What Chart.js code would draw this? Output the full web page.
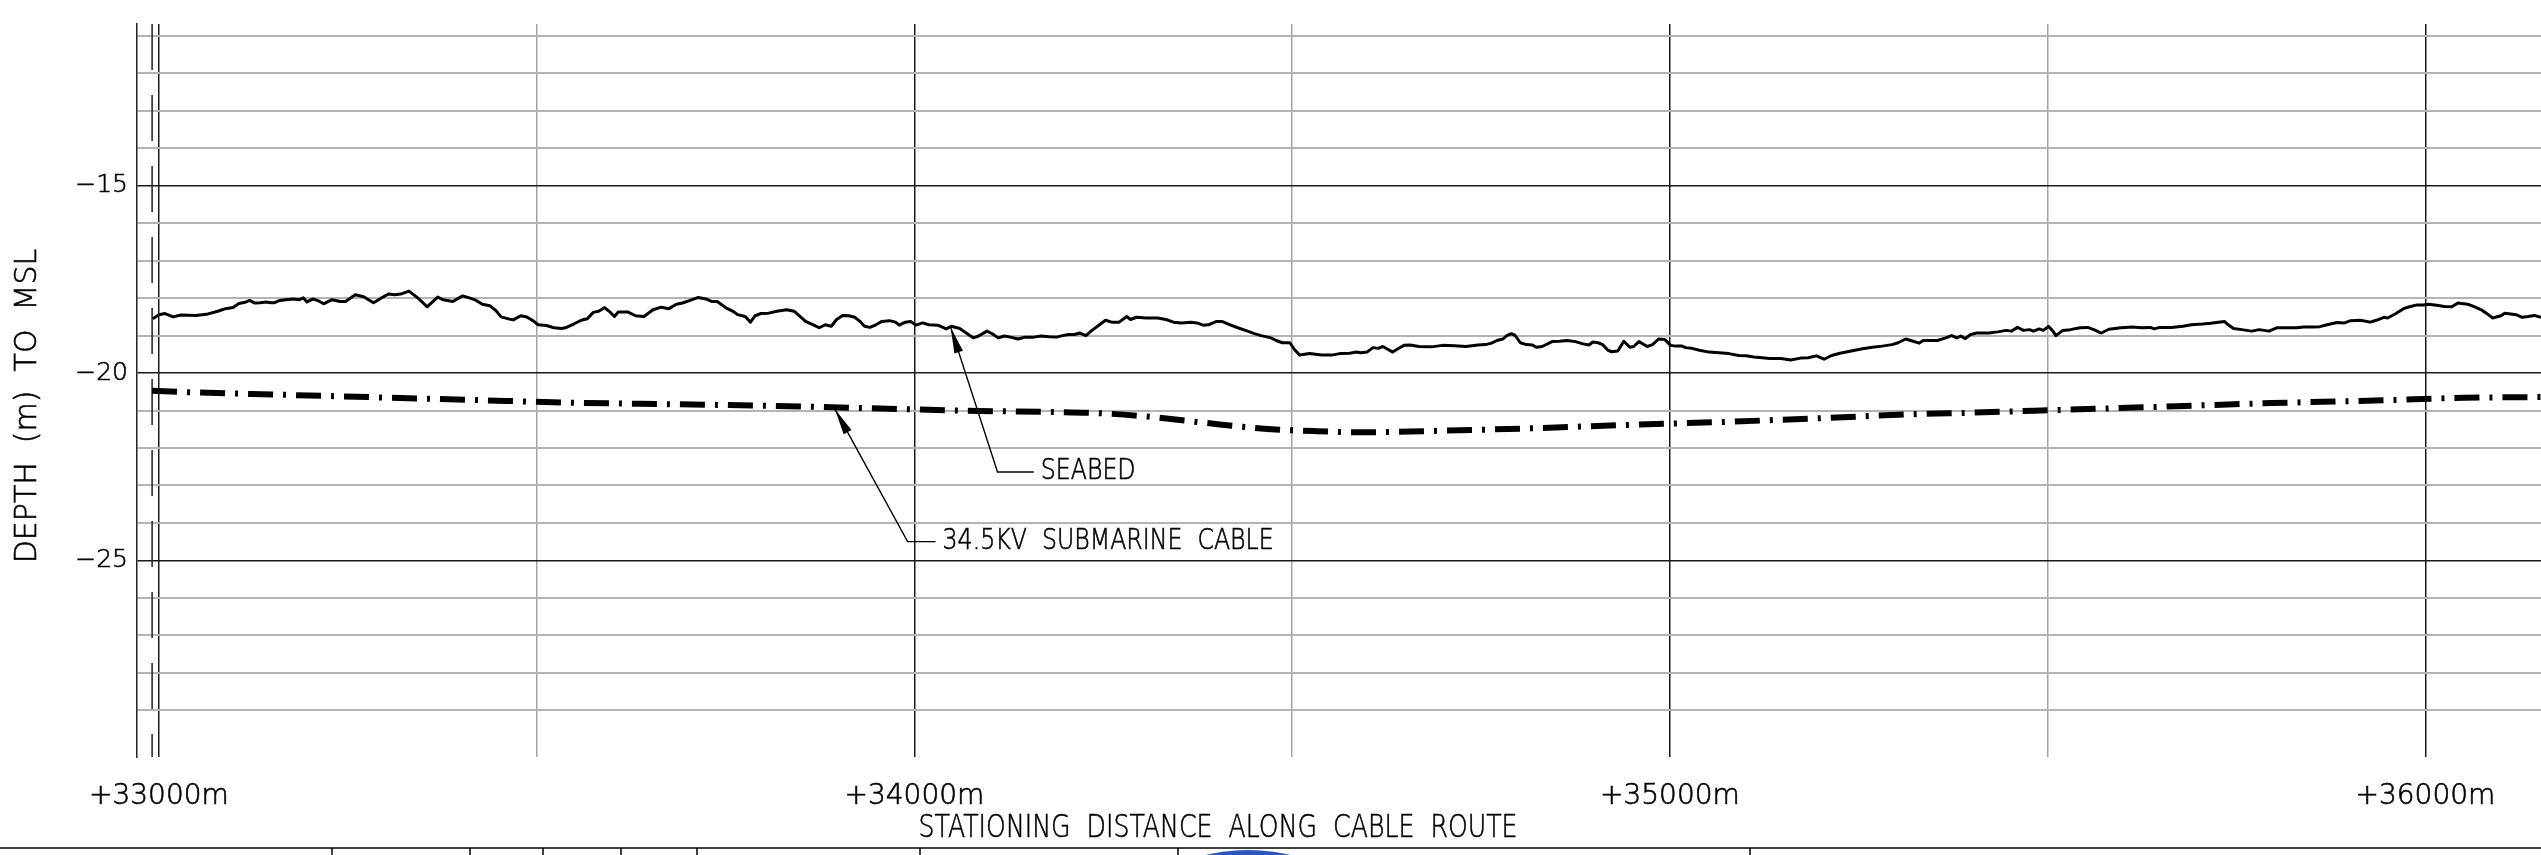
<!DOCTYPE html>
<html>
<head>
<meta charset="utf-8">
<script src="https://cdn.jsdelivr.net/npm/chart.js@4.4.1/dist/chart.umd.min.js"></script>
<style>
  html, body { margin: 0; padding: 0; background: #fff; }
  #wrap { width: 2541px; height: 855px; }
</style>
</head>
<body>
<div id="wrap"><canvas id="perfil" width="2541" height="855"></canvas></div>
<script>
// ================= DATA =================

// seabed profile, station (m) / depth (m to MSL)
const seabedStation = [
  32992, 33000, 33008, 33019, 33029, 33049, 33065, 33078, 33088, 33098, 33106, 33114, 33120, 33127,
  33134, 33142, 33148, 33153, 33160, 33168, 33178, 33186, 33191, 33196, 33204, 33211, 33218, 33229,
  33240, 33247, 33260, 33271, 33284, 33294, 33304, 33312, 33320, 33331, 33343, 33355, 33369, 33376,
  33389, 33402, 33412, 33420, 33428, 33438, 33446, 33453, 33464, 33469, 33479, 33487, 33495, 33502,
  33513, 33523, 33533, 33538, 33549, 33559, 33567, 33575, 33582, 33590, 33596, 33603, 33608, 33621,
  33631, 33642, 33654, 33665, 33675, 33685, 33693, 33703, 33714, 33724, 33732, 33739, 33750, 33760,
  33766, 33776, 33783, 33789, 33797, 33807, 33818, 33831, 33841, 33849, 33856, 33867, 33874, 33882,
  33890, 33897, 33905, 33913, 33921, 33928, 33934, 33941, 33949, 33957, 33967, 33975, 33980, 33988,
  33995, 34002, 34011, 34019, 34031, 34042, 34049, 34060, 34070, 34078, 34085, 34096, 34103, 34111,
  34119, 34127, 34137, 34147, 34158, 34168, 34178, 34188, 34196, 34204, 34212, 34219, 34227, 34235,
  34245, 34253, 34261, 34271, 34281, 34286, 34294, 34307, 34322, 34333, 34343, 34353, 34366, 34374,
  34382, 34389, 34400, 34407, 34418, 34428, 34441, 34449, 34459, 34472, 34479, 34487, 34497, 34503,
  34510, 34523, 34539, 34552, 34563, 34576, 34584, 34591, 34599, 34607, 34614, 34620, 34627, 34633,
  34640, 34648, 34656, 34668, 34684, 34699, 34715, 34730, 34746, 34756, 34764, 34771, 34779, 34784,
  34790, 34795, 34802, 34810, 34818, 34823, 34831, 34844, 34854, 34864, 34875, 34885, 34893, 34898,
  34905, 34911, 34918, 34923, 34931, 34939, 34947, 34952, 34959, 34970, 34977, 34985, 34993, 35001,
  35008, 35016, 35021, 35029, 35039, 35052, 35065, 35078, 35091, 35101, 35111, 35122, 35132, 35147,
  35160, 35173, 35183, 35194, 35204, 35214, 35225, 35235, 35245, 35255, 35268, 35281, 35294, 35302,
  35312, 35322, 35330, 35335, 35346, 35354, 35365, 35373, 35380, 35385, 35391, 35398, 35406, 35422,
  35434, 35445, 35452, 35460, 35468, 35476, 35481, 35489, 35494, 35499, 35501, 35507, 35511, 35520,
  35530, 35543, 35553, 35561, 35571, 35581, 35597, 35612, 35625, 35636, 35641, 35648, 35664, 35679,
  35690, 35705, 35716, 35726, 35734, 35739, 35746, 35757, 35770, 35780, 35793, 35803, 35814, 35829,
  35839, 35850, 35860, 35870, 35883, 35893, 35901, 35914, 35927, 35935, 35945, 35950, 35961, 35971,
  35979, 35989, 35997, 36004, 36015, 36025, 36035, 36043, 36056, 36066, 36074, 36082, 36089, 36100,
  36105, 36113, 36120, 36128, 36136, 36144, 36153
];
const seabedDepth = [
  -18.55, -18.44, -18.41, -18.50, -18.45, -18.46, -18.42, -18.35, -18.28, -18.25, -18.14, -18.11, -18.06, -18.13,
  -18.12, -18.10, -18.12, -18.12, -18.06, -18.04, -18.02, -18.04, -17.99, -18.10, -18.02, -18.07, -18.15, -18.04,
  -18.09, -18.09, -17.91, -17.96, -18.12, -18.00, -17.89, -17.91, -17.89, -17.81, -18.00, -18.23, -17.97, -18.04,
  -18.09, -17.94, -18.00, -18.06, -18.16, -18.20, -18.33, -18.50, -18.56, -18.58, -18.47, -18.50, -18.60, -18.71,
  -18.73, -18.79, -18.81, -18.79, -18.69, -18.59, -18.55, -18.38, -18.35, -18.25, -18.35, -18.49, -18.37, -18.37,
  -18.47, -18.49, -18.31, -18.24, -18.28, -18.16, -18.13, -18.06, -17.98, -18.02, -18.09, -18.09, -18.25, -18.35,
  -18.44, -18.49, -18.64, -18.47, -18.41, -18.40, -18.35, -18.31, -18.35, -18.49, -18.62, -18.72, -18.79, -18.71,
  -18.75, -18.57, -18.46, -18.47, -18.51, -18.62, -18.75, -18.78, -18.71, -18.62, -18.60, -18.64, -18.72, -18.64,
  -18.62, -18.72, -18.66, -18.71, -18.72, -18.82, -18.75, -18.81, -18.95, -19.06, -19.01, -18.88, -18.95, -19.06,
  -19.01, -19.04, -19.09, -19.04, -19.04, -19.01, -19.03, -19.04, -19.00, -18.97, -18.97, -18.93, -19.00, -18.86,
  -18.71, -18.59, -18.64, -18.64, -18.49, -18.57, -18.51, -18.53, -18.53, -18.57, -18.64, -18.66, -18.64, -18.66,
  -18.72, -18.71, -18.62, -18.62, -18.71, -18.79, -18.88, -18.94, -19.00, -19.06, -19.13, -19.19, -19.19, -19.37,
  -19.52, -19.48, -19.52, -19.52, -19.48, -19.47, -19.44, -19.46, -19.44, -19.32, -19.34, -19.29, -19.37, -19.44,
  -19.35, -19.26, -19.25, -19.29, -19.30, -19.26, -19.27, -19.29, -19.25, -19.24, -19.20, -19.13, -19.09, -19.00,
  -18.95, -18.99, -19.19, -19.24, -19.25, -19.31, -19.29, -19.16, -19.15, -19.13, -19.16, -19.22, -19.25, -19.17,
  -19.19, -19.24, -19.39, -19.43, -19.41, -19.15, -19.31, -19.29, -19.16, -19.29, -19.24, -19.09, -19.10, -19.26,
  -19.28, -19.28, -19.32, -19.34, -19.39, -19.44, -19.46, -19.48, -19.53, -19.54, -19.57, -19.59, -19.61, -19.61,
  -19.65, -19.60, -19.59, -19.54, -19.63, -19.53, -19.47, -19.43, -19.39, -19.35, -19.31, -19.28, -19.24, -19.19,
  -19.09, -19.15, -19.20, -19.13, -19.13, -19.13, -19.06, -19.00, -19.06, -19.01, -19.08, -18.97, -18.93, -18.93,
  -18.90, -18.86, -18.88, -18.78, -18.86, -18.84, -18.88, -18.82, -18.86, -18.79, -18.75, -18.88, -19.00, -18.86,
  -18.84, -18.79, -18.78, -18.84, -18.93, -18.83, -18.79, -18.77, -18.79, -18.78, -18.82, -18.78, -18.78, -18.75,
  -18.71, -18.69, -18.67, -18.64, -18.62, -18.71, -18.81, -18.84, -18.88, -18.84, -18.88, -18.79, -18.79, -18.79,
  -18.77, -18.77, -18.76, -18.71, -18.65, -18.66, -18.60, -18.59, -18.64, -18.59, -18.51, -18.53, -18.41, -18.28,
  -18.23, -18.18, -18.18, -18.16, -18.19, -18.22, -18.23, -18.13, -18.16, -18.24, -18.31, -18.42, -18.53, -18.47,
  -18.40, -18.42, -18.44, -18.51, -18.49, -18.46, -18.51
];

// 34.5KV submarine cable
const cableStation = [32991, 33039, 33166, 33293, 33420, 33547, 33674, 33801, 33928, 34055, 34182, 34244, 34307,
  34404, 34467, 34531, 34593, 34697, 34823, 34951, 35078, 35204, 35332, 35394, 35522, 35648, 35797, 35923, 36051, 36153];
const cableDepth = [-20.47, -20.51, -20.58, -20.65, -20.72, -20.79, -20.83, -20.87, -20.93, -21.00, -21.04, -21.07, -21.16,
  -21.37, -21.49, -21.55, -21.58, -21.54, -21.47, -21.38, -21.30, -21.20, -21.09, -21.06, -20.98, -20.90, -20.80, -20.74, -20.66, -20.64];

const stationTicks = [33000, 33500, 34000, 34500, 35000, 35500, 36000];
const stationLabels = ["+33000m", "", "+34000m", "", "+35000m", "", "+36000m"];
const depthTicks = [-29, -28, -27, -26, -25, -24, -23, -22, -21, -20, -19, -18, -17, -16, -15, -14, -13, -12, -11];
const depthLabelled = [-15, -20, -25];

const stationRange = [32971, 36153];
const depthRange = [-30.25, -10.68];
const routeStartMark = 32991;

// ================= CHART =================

const TINTA = "#000";
const fonteCad = "'DejaVu Sans', sans-serif";

const callouts = [
  { text: "SEABED", tip: [34048, -18.78], elbow: [34110, -22.64], end: 34158 },
  { text: "34.5KV  SUBMARINE  CABLE", tip: [33895, -20.97], elbow: [33991, -24.5], end: 34028 },
];

// texto fino, opcionalmente comprimido na horizontal (estilo CAD)
function textoCad(ctx, txt, x, y, size, escala, align, rot) {
  ctx.save();
  ctx.font = "200 " + size + "px " + fonteCad;
  ctx.textAlign = align;
  ctx.textBaseline = "middle";
  ctx.lineWidth = 0.6;
  ctx.translate(x, y);
  if (rot) ctx.rotate(rot);
  ctx.scale(escala, 1);
  ctx.fillText(txt, 0, 0);
  ctx.strokeText(txt, 0, 0);
  ctx.restore();
}

const desenho = {
  id: "desenho",
  beforeDatasetsDraw(chart) {
    const { ctx, chartArea, scales } = chart;
    const px = scales.x.getPixelForValue(routeStartMark);
    ctx.save();
    ctx.strokeStyle = "#222";
    ctx.lineWidth = 1.5;
    ctx.setLineDash([46, 25]);
    ctx.beginPath();
    ctx.moveTo(px, chartArea.top);
    ctx.lineTo(px, chartArea.bottom);
    ctx.stroke();
    ctx.restore();
  },
  afterDraw(chart) {
    const { ctx, scales } = chart;
    const { x, y } = scales;
    ctx.save();
    ctx.fillStyle = TINTA;
    ctx.strokeStyle = TINTA;

    // axis titles
    textoCad(ctx, "DEPTH  (m)  TO  MSL", 28, 406, 30, 1, "center", -Math.PI / 2);
    textoCad(ctx, "STATIONING  DISTANCE  ALONG  CABLE  ROUTE", 1218, 829, 31.5, 0.8, "center");

    // callouts
    callouts.forEach((c) => {
      const tx = x.getPixelForValue(c.tip[0]);
      const ty = y.getPixelForValue(c.tip[1]);
      const ex = x.getPixelForValue(c.elbow[0]);
      const ey = y.getPixelForValue(c.elbow[1]);
      const hx = x.getPixelForValue(c.end);
      ctx.lineWidth = 1.4;
      ctx.beginPath();
      ctx.moveTo(tx, ty);
      ctx.lineTo(ex, ey);
      ctx.lineTo(hx, ey);
      ctx.stroke();
      const len = Math.hypot(ex - tx, ey - ty);
      const ux = (ex - tx) / len, uy = (ey - ty) / len;
      const bx = tx + ux * 26, by = ty + uy * 26;
      ctx.beginPath();
      ctx.moveTo(tx, ty);
      ctx.lineTo(bx - uy * 4.5, by + ux * 4.5);
      ctx.lineTo(bx + uy * 4.5, by - ux * 4.5);
      ctx.closePath();
      ctx.fill();
      textoCad(ctx, c.text, hx + 7, ey, 27.5, 0.86, "left");
    });

    // borda do carimbo no pé da folha
    ctx.lineWidth = 1.5;
    ctx.beginPath();
    ctx.moveTo(0, 848);
    ctx.lineTo(chart.width, 848);
    [332, 470, 543, 621, 697, 920, 1178, 1750].forEach((bx) => {
      ctx.moveTo(bx, 848);
      ctx.lineTo(bx, 855);
    });
    ctx.stroke();

    // logo (só o topo aparece)
    ctx.beginPath();
    ctx.rect(1150, 850, 200, 10);
    ctx.clip();
    ctx.fillStyle = "#2f57b8";
    ctx.beginPath();
    ctx.ellipse(1248, 940, 130, 90, 0, 0, Math.PI * 2);
    ctx.fill();
    ctx.restore();
  },
};

new Chart(document.getElementById("perfil").getContext("2d"), {
  type: "line",
  data: {
    datasets: [
      {
        label: "SEABED",
        data: seabedStation.map((s, i) => ({ x: s, y: seabedDepth[i] })),
        borderColor: "#000",
        borderWidth: 3,
        borderJoinStyle: "round",
        pointRadius: 0,
        tension: 0,
      },
      {
        label: "34.5KV SUBMARINE CABLE",
        data: cableStation.map((s, i) => ({ x: s, y: cableDepth[i] })),
        borderColor: "#000",
        borderWidth: 6,
        borderDash: [25, 10, 3, 10],
        borderCapStyle: "butt",
        cubicInterpolationMode: "monotone",
        pointRadius: 0,
      },
    ],
  },
  options: {
    responsive: false,
    animation: false,
    devicePixelRatio: 1,
    layout: { padding: { top: 19, left: 0, right: 0, bottom: 0 } },
    plugins: { legend: { display: false }, tooltip: { enabled: false } },
    scales: {
      x: {
        type: "linear",
        min: stationRange[0],
        max: stationRange[1],
        afterBuildTicks: (axis) => { axis.ticks = stationTicks.map((v) => ({ value: v })); },
        afterFit: (axis) => { axis.height = 98; },
        border: { display: false },
        grid: {
          drawTicks: false,
          color: (c) => (c.tick && c.tick.value % 1000 === 0 ? "#1a1a1a" : "#a4a4a4"),
          lineWidth: 1.5,
        },
        ticks: {
          autoSkip: false,
          maxRotation: 0,
          padding: 23,
          color: TINTA,
          textStrokeColor: TINTA,
          textStrokeWidth: 0.6,
          font: { family: fonteCad, size: 28, weight: "200" },
          callback: (v, i) => stationLabels[i],
        },
      },
      y: {
        type: "linear",
        min: depthRange[0],
        max: depthRange[1],
        afterBuildTicks: (axis) => { axis.ticks = depthTicks.map((v) => ({ value: v })); },
        afterFit: (axis) => { axis.width = 137; },
        border: { display: true, color: "#222", width: 1.5 },
        grid: {
          drawTicks: false,
          color: (c) => (c.tick && depthLabelled.includes(c.tick.value) ? "#1a1a1a" : "#b4b4b4"),
          lineWidth: (c) => (c.tick && depthLabelled.includes(c.tick.value) ? 1.5 : 2),
        },
        ticks: {
          autoSkip: false,
          padding: 9,
          color: TINTA,
          textStrokeColor: TINTA,
          textStrokeWidth: 0.6,
          font: { family: fonteCad, size: 25, weight: "200" },
          callback: (v) => (depthLabelled.includes(v) ? "\u2212" + Math.abs(v) : ""),
        },
      },
    },
  },
  plugins: [desenho],
});
</script>
</body>
</html>
